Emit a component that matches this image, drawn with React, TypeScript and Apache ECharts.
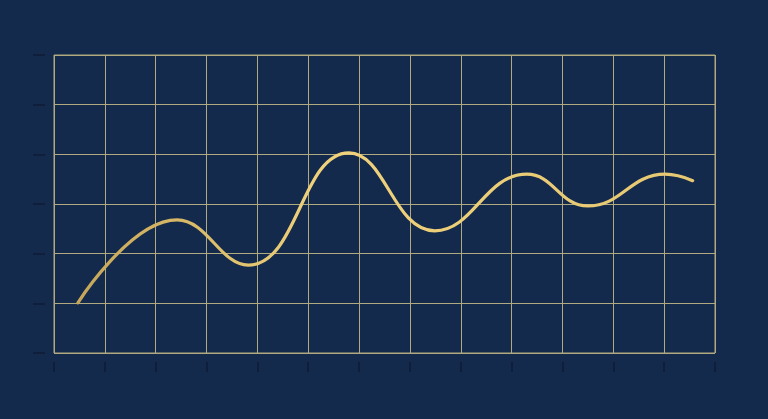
import { useEffect, useRef } from "react";
import * as echarts from "echarts";

// curve points, in grid units (x: 0..13, y: 0..6)
const xValues = [0.47, 2.42, 3.82, 5.8, 7.49, 9.3, 10.5, 12.02, 12.56];
const yValues = [1.01, 2.68, 1.77, 4.03, 2.46, 3.6, 2.96, 3.6, 3.47];

const X_MAX = 13;
const Y_MAX = 6;

const BG = "#142a4c";
const GRID = "#b1a97f";
const TICK = "#0c1b36";

const hidden = { show: false };

const App = () => {
  const chartRef = useRef<HTMLDivElement>(null);

  useEffect(() => {
    if (!chartRef.current) return;
    const chart = echarts.init(chartRef.current, undefined, { renderer: "svg" });

    const xBase = { type: "value" as const, min: 0, max: X_MAX, interval: 1 };
    const yBase = { type: "value" as const, min: 0, max: Y_MAX, interval: 1 };

    const option: echarts.EChartsOption = {
      animation: false,
      backgroundColor: BG,
      grid: [
        // main plot
        { left: 54, right: 53, top: 55, bottom: 66, show: true, borderColor: GRID, borderWidth: 1 },
        // detached bottom ticks
        { left: 54, right: 53, top: 55, bottom: 57 },
        // detached left ticks
        { left: 45, right: 53, top: 55, bottom: 66 },
      ],
      xAxis: [
        {
          ...xBase,
          gridIndex: 0,
          axisLine: hidden,
          axisTick: hidden,
          axisLabel: hidden,
          splitLine: { show: true, lineStyle: { color: GRID, width: 1 } },
        },
        {
          ...xBase,
          gridIndex: 1,
          axisLine: hidden,
          axisTick: { show: true, length: 10, lineStyle: { color: TICK, width: 1.5 } },
          axisLabel: hidden,
          splitLine: hidden,
        },
        { ...xBase, gridIndex: 2, show: false },
      ],
      yAxis: [
        {
          ...yBase,
          gridIndex: 0,
          axisLine: hidden,
          axisTick: hidden,
          axisLabel: hidden,
          splitLine: { show: true, lineStyle: { color: GRID, width: 1 } },
        },
        { ...yBase, gridIndex: 1, show: false },
        {
          ...yBase,
          gridIndex: 2,
          axisLine: hidden,
          axisTick: { show: true, length: 12, lineStyle: { color: TICK, width: 1.5 } },
          axisLabel: hidden,
          splitLine: hidden,
        },
      ],
      series: [
        {
          type: "line",
          xAxisIndex: 0,
          yAxisIndex: 0,
          data: xValues.map((x, i) => [x, yValues[i]]),
          smooth: 0.45,
          symbol: "none",
          lineStyle: {
            width: 3.2,
            cap: "round",
            color: new echarts.graphic.LinearGradient(0, 0, 1, 0, [
              { offset: 0, color: "#c6a658" },
              { offset: 0.4, color: "#f0d27c" },
              { offset: 1, color: "#e6c872" },
            ]),
          },
        },
      ],
    };

    chart.setOption(option);
    const handleResize = () => chart.resize();
    window.addEventListener("resize", handleResize);
    return () => {
      window.removeEventListener("resize", handleResize);
      chart.dispose();
    };
  }, []);

  return (
    <div
      ref={chartRef}
      style={{ position: "fixed", left: 0, top: 0, width: 768, height: 419 }}
    />
  );
};

export default App;
